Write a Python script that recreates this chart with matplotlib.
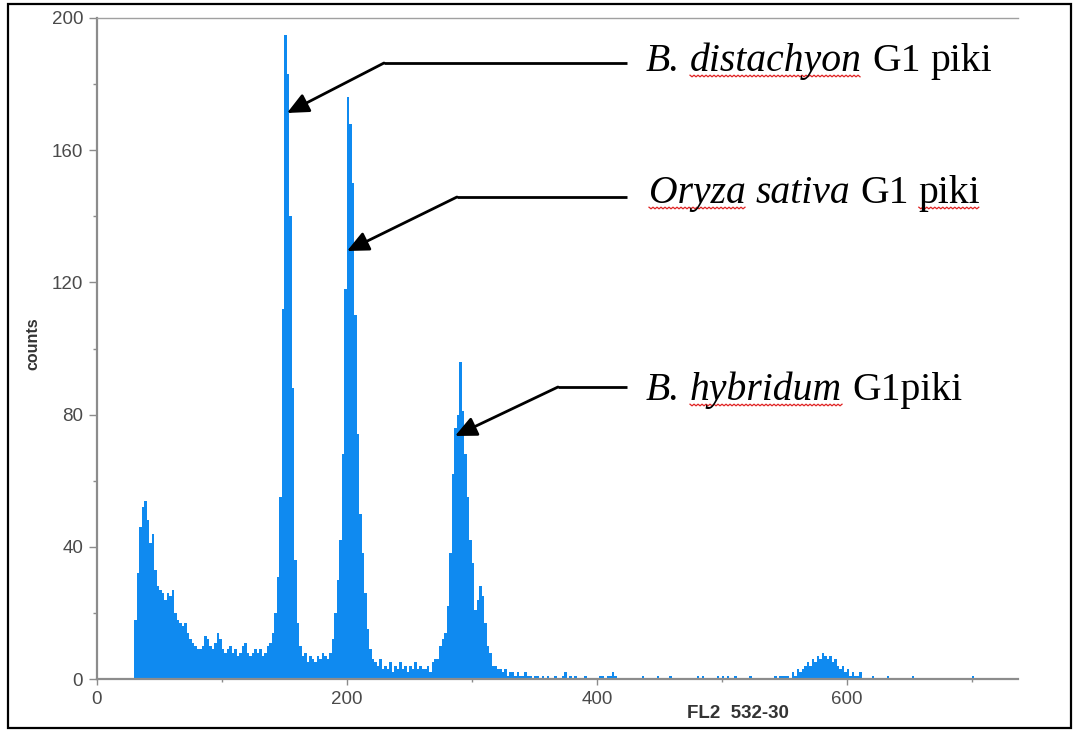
import numpy as np
import matplotlib
matplotlib.use("Agg")
import matplotlib.pyplot as plt
from matplotlib.lines import Line2D
from matplotlib.patches import Rectangle

plt.rcParams["font.family"] = ["Liberation Sans", "DejaVu Sans"]

# ---------------- data (counts per 2-channel bin, starting at channel 30) ----------------
BIN_START = 30
BIN_WIDTH = 2

counts_debris = [18, 32, 46, 52, 54, 48, 41, 44, 33, 28,
                 27, 26, 24, 26, 25, 27, 20, 18, 17, 16,
                 17, 14, 12, 11, 10, 9, 9, 10, 13, 12,
                 10, 9, 11, 14, 12, 9, 8, 9, 10, 8,
                 9, 7, 8, 10, 11, 8, 7, 8, 9, 8,
                 9, 7, 8, 10, 11, 14, 20, 31]                       # 30..144
counts_peak1 = [55, 112, 195, 183, 140, 88, 36, 17, 10, 7,
                8, 5, 7, 6, 5, 7, 6, 8]                             # 146..180
counts_peak2 = [7, 6, 8, 12, 20, 30, 42, 68, 118, 176,
                168, 150, 110, 74, 50, 38, 26, 15, 9, 6,
                5, 4, 6, 3]                                         # 182..228
counts_valley = [4, 3, 5, 2, 4, 3, 5, 3, 4, 2, 4, 3, 5, 3, 4, 3]   # 230..260
counts_peak3 = [3, 4, 2, 5, 6, 6, 10, 12, 14, 22,
                38, 62, 76, 80, 96, 81, 68, 55, 42, 35,
                21, 24, 28, 25, 17, 10, 8, 4, 4, 3,
                3, 2, 3, 1]                                         # 262..328
counts_tail = [2, 2, 1, 2, 1, 1, 2, 1, 1, 0,
               1, 1, 0, 1, 0, 1, 0, 0, 1, 0,
               0, 1, 2, 0, 1,                                       # 330..378
               0, 1, 0, 0, 0, 1, 0, 0, 0, 0,
               0, 1, 1, 0, 1, 1, 2, 1, 0, 0,
               0, 0, 0, 0, 0, 0, 0, 0, 1, 0,
               0, 0, 0, 0, 1,                                       # 380..448
               0, 0, 0, 0, 1, 0, 0, 0, 0, 0,
               0, 0, 0, 0, 0, 1, 0, 1, 0, 0,
               0, 0, 0, 1, 0, 1, 0, 1, 0, 0,
               1, 0, 0, 0, 0, 0, 1, 0, 0, 0,
               0, 0, 0, 0, 0, 0, 1, 0, 1, 1]                        # 450..548
counts_g2 = [1, 1, 0, 2, 1, 3, 2, 3, 4, 5,
             4, 6, 5, 7, 6, 8, 7, 6, 7, 5,
             6, 4, 3, 4, 2, 3, 1, 2, 1, 1,
             2, 0]                                                  # 550..612
counts_end = [0, 0, 0, 1, 0, 0, 0, 0, 0, 1,
              0, 0, 0, 0, 0, 0, 0, 0, 0, 1,
              0, 0, 0, 0, 0, 0, 0, 0, 0, 0,
              0, 0, 0, 0, 0, 0, 0, 0, 0, 0,
              0, 0, 0, 1, 0, 0, 0, 0, 0, 0,
              0, 0, 0, 0, 0, 0, 0, 0, 0, 0,
              0, 0]                                                 # 614..736

counts = np.array(counts_debris + counts_peak1 + counts_peak2 + counts_valley +
                  counts_peak3 + counts_tail + counts_g2 + counts_end, dtype=float)
edges = BIN_START + BIN_WIDTH * np.arange(len(counts) + 1)

x_ticks = [0, 200, 400, 600]
y_ticks = [0, 40, 80, 120, 160, 200]
x_label = "FL2  532-30"
y_label = "counts"

# labels: pieces of (text, italic, red-underline)
labels = [
    [("B.", True, False), ("distachyon", True, True), ("G1", False, False), ("piki", False, False)],
    [("Oryza", True, True), ("sativa", True, False), ("G1", False, False), ("piki", False, True)],
    [("B.", True, False), ("hybridum", True, True), ("G1piki", False, False)],
]

# ---------------- figure ----------------
W, H, DPI = 1076, 731, 100
fig = plt.figure(figsize=(W / DPI, H / DPI), dpi=DPI)
fig.patch.set_facecolor("white")

L, R, T, B = 97, 1018, 18, 679
ax = fig.add_axes([L / W, 1 - B / H, (R - L) / W, (B - T) / H])

bar_color = "#0f8af0"
ax.stairs(counts, edges, fill=True, color=bar_color, linewidth=0)

ax.set_xlim(0, 737)
ax.set_ylim(0, 200)

ax.set_xticks(x_ticks)
ax.set_xticks([100, 300, 500, 700], minor=True)
ax.set_yticks(y_ticks)
ax.set_yticks([20, 60, 100, 140, 180], minor=True)

tick_col = "#4a4a4a"
spine_col = "#8c8c8c"
ax.tick_params(axis="y", which="major", length=6, width=1, color=spine_col,
               labelsize=13.5, labelcolor=tick_col, pad=4)
ax.tick_params(axis="y", which="minor", length=3, width=1, color=spine_col)
ax.tick_params(axis="x", which="major", length=4, width=1, color=spine_col,
               labelsize=13.5, labelcolor=tick_col, pad=5)
ax.tick_params(axis="x", which="minor", length=2, width=1, color=spine_col)

for s in ["left", "bottom"]:
    ax.spines[s].set_color(spine_col)
    ax.spines[s].set_linewidth(1.6)
ax.spines["top"].set_color("#a0a0a0")
ax.spines["top"].set_linewidth(1.0)
ax.spines["right"].set_visible(False)

ax.set_ylabel(y_label, fontsize=11.5, fontweight="bold", color="#333333")
ax.yaxis.set_label_coords((40 - L) / (R - L), (B - 344) / (B - T))
ax.set_xlabel(x_label, fontsize=13.5, fontweight="bold", color="#333333")
ax.xaxis.set_label_coords((738 - L) / (R - L), (B - 713) / (B - T))
ax.xaxis.label.set_verticalalignment("center")

# ---------------- arrows (pixel positions converted to data) ----------------
def px2data(px, py):
    return ax.transData.inverted().transform((px, H - py))

arrow_geom = [  # (tip, elbow, line end) in image pixels
    ((287, 113), (384, 63), (627, 63)),
    ((347, 251), (457, 197), (627, 197)),
    ((455, 436), (558, 387), (627, 387)),
]
for tip, elbow, end in arrow_geom:
    t = px2data(*tip)
    e = px2data(*elbow)
    n = px2data(*end)
    ax.add_line(Line2D([e[0], n[0]], [e[1], n[1]], color="black", lw=2,
                       solid_capstyle="butt", clip_on=False))
    ax.annotate("", xy=t, xytext=e,
                arrowprops=dict(arrowstyle="-|>,head_length=1.3,head_width=0.6",
                                color="black", lw=2, shrinkA=0, shrinkB=0),
                annotation_clip=False)

# ---------------- labels with spell-check underline ----------------
fig.canvas.draw()
renderer = fig.canvas.get_renderer()
label_pos = [(646, 71), (649, 203), (646, 400)]
fs = 28.5
space_px = fs * DPI / 72 * 0.25
for (x0, yb), pieces in zip(label_pos, labels):
    x = x0
    for i, (txt, it, ul) in enumerate(pieces):
        t = fig.text(x / W, 1 - yb / H, txt, fontsize=fs, family="Liberation Serif",
                     style="italic" if it else "normal", va="baseline", ha="left",
                     color="black")
        bb = t.get_window_extent(renderer)
        if ul:
            xs = np.arange(bb.x0, bb.x1, 2.0)
            ys = (H - yb - 5) + np.where(np.arange(len(xs)) % 2 == 0, 0.8, -0.8)
            fig.add_artist(Line2D(xs / W, ys / H, color="#e02020", lw=0.9,
                                  transform=fig.transFigure))
        x = bb.x1 + space_px

# outer frame
fig.add_artist(Rectangle((8 / W, 3 / H), (1071 - 8) / W, (727 - 3) / H,
                         transform=fig.transFigure, fill=False,
                         edgecolor="black", lw=1.6))

fig.savefig("out.png", dpi=DPI, facecolor="white")
